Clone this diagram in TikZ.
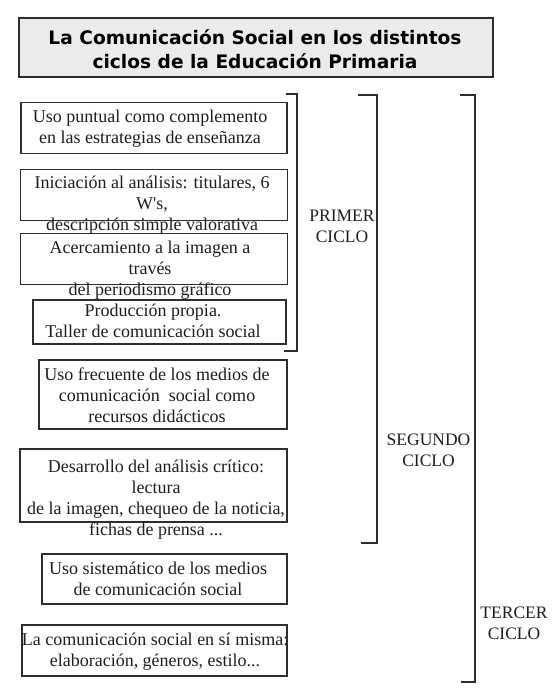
\documentclass[tikz,border=0pt]{standalone}
\usepackage{fontspec}
\setmainfont{Liberation Serif}
\newfontfamily\titlefont{DejaVu Sans}
\definecolor{ink}{HTML}{1E1E1E}
\definecolor{edge}{HTML}{2E2E2E}
\definecolor{titlefill}{HTML}{EBEBEB}
\begin{document}
\begin{tikzpicture}[x=1pt,y=-1pt,
  box/.style={draw=edge, line width=1.3pt, inner sep=0pt, fill=none},
  txt/.style={text=ink, align=center, inner sep=0pt, font=\fontsize{18}{21}\selectfont},
  lbl/.style={text=ink, align=center, inner sep=0pt, font=\fontsize{17.5}{21}\selectfont},
  brk/.style={draw=edge, line width=1.3pt}]
\useasboundingbox (0,0) rectangle (556,696);
\fill[white] (0,0) rectangle (556,696);
% title
\node[box, fill=titlefill, line width=1.5pt, minimum width=474pt, minimum height=59pt] (title) at (256,47.5) {};
\node[text=black, align=center, inner sep=0pt, font=\titlefont\bfseries\fontsize{18.6}{24}\selectfont] (titletext) at (255,49.5) {La Comunicación Social en los distintos\\ciclos de la Educación Primaria};
% boxes
\node[box, minimum width=266pt, minimum height=51pt] (b1) at (154,128) {};
\node[box, minimum width=267pt, minimum height=51pt] (b2) at (154,195) {};
\node[box, minimum width=267pt, minimum height=51pt] (b3) at (154,259) {};
\node[box, minimum width=253pt, minimum height=44pt] (b4) at (159.5,322) {};
\node[box, minimum width=248pt, minimum height=69pt] (b5) at (163,394.5) {};
\node[box, minimum width=267pt, minimum height=73pt] (b6) at (153.5,485.5) {};
\node[box, minimum width=245pt, minimum height=50pt] (b7) at (164.5,579) {};
\node[box, minimum width=265pt, minimum height=51pt] (b8) at (154.5,650.5) {};
% texts
\node[txt] (t1) at (150,128.5) {Uso puntual como complemento\\en las estrategias de enseñanza};
\node[txt] (t2) at (152,205) {Iniciación al análisis: titulares, 6\\W\textquotesingle s,\\descripción simple valorativa};
\node[txt] (t3) at (150,270.5) {Acercamiento a la imagen a\\través\\del periodismo gráfico};
\node[txt] (t4) at (153,321) {Producción propia.\\Taller de comunicación social};
\node[txt] (t5) at (157,395) {Uso frecuente de los medios de\\comunicación \ social como\\recursos didácticos};
\node[txt] (t6) at (156,500) {Desarrollo del análisis crítico:\\lectura\\de la imagen, chequeo de la noticia,\\fichas de prensa ...};
\node[txt] (t7) at (158,579) {Uso sistemático de los medios\\de comunicación social};
\node[txt] (t8) at (155,651.5) {La comunicación social en sí misma:\\elaboración, géneros, estilo...};
% brackets
\coordinate (p1a) at (286,94); \coordinate (p1b) at (297,94);
\coordinate (p1c) at (297,351); \coordinate (p1d) at (284,351);
\draw[brk] (p1a) -- (p1b) -- (p1c) -- (p1d);
\coordinate (p2a) at (358,95); \coordinate (p2b) at (377,95);
\coordinate (p2c) at (377,543); \coordinate (p2d) at (361,543);
\draw[brk] (p2a) -- (p2b) -- (p2c) -- (p2d);
\coordinate (p3a) at (460,95); \coordinate (p3b) at (475,95);
\coordinate (p3c) at (475,682); \coordinate (p3d) at (461,682);
\draw[brk] (p3a) -- (p3b) -- (p3c) -- (p3d);
% labels
\node[lbl] (l1) at (342,226) {PRIMER\\CICLO};
\node[lbl] (l2) at (428.5,450.5) {SEGUNDO\\CICLO};
\node[lbl] (l3) at (514,623.5) {TERCER\\CICLO};
\end{tikzpicture}
\end{document}
